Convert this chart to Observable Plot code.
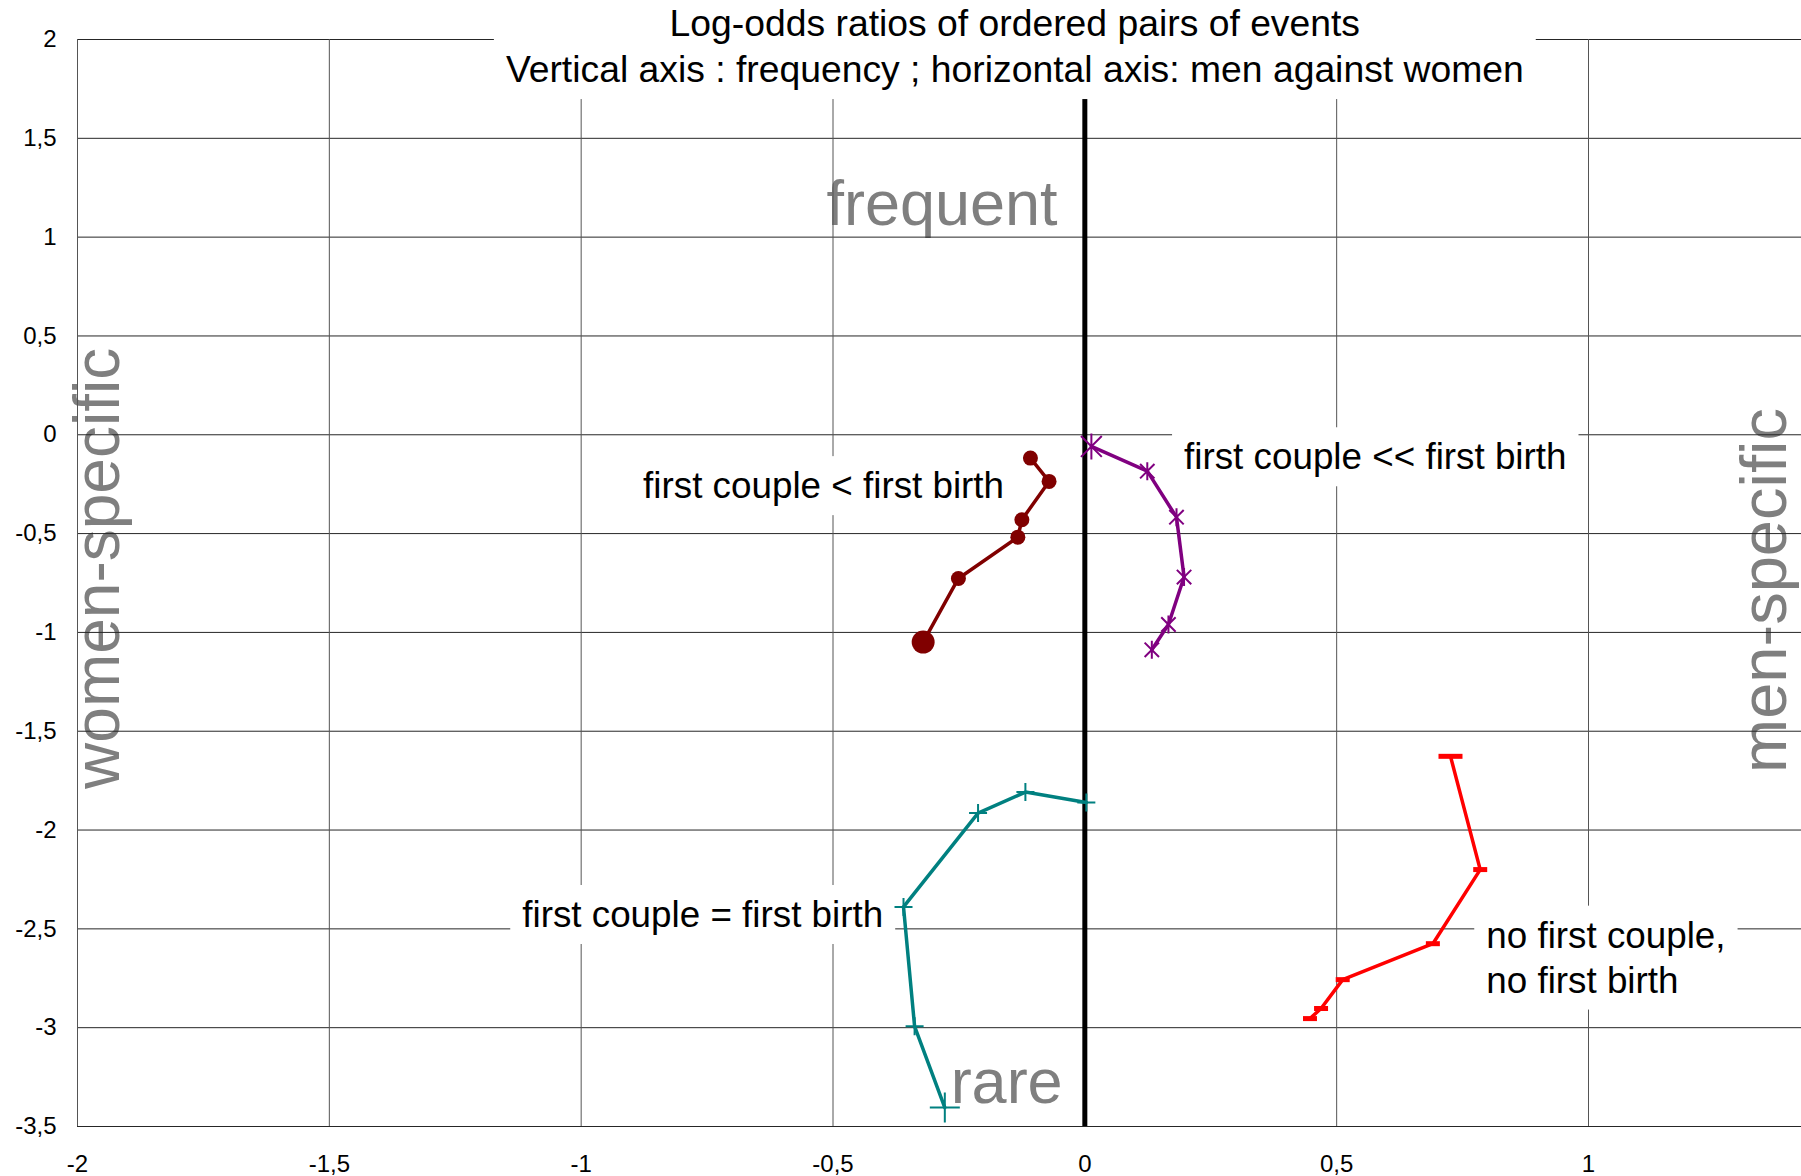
<!DOCTYPE html>
<html><head><meta charset="utf-8">
<script src="https://cdn.jsdelivr.net/npm/d3@7"></script>
<script src="https://cdn.jsdelivr.net/npm/@observablehq/plot@0.6"></script>
<style>html,body{margin:0;padding:0;background:#fff;} svg{display:block}</style>
</head><body>
<div id="chart"></div>
<script>
// ---- tick values ----
const xTicks = [-2, -1.5, -1, -0.5, 0, 0.5, 1];
const yTicks = [2, 1.5, 1, 0.5, 0, -0.5, -1, -1.5, -2, -2.5, -3, -3.5];

// ---- texts ----
const titleText = "Log-odds ratios of ordered pairs of events\nVertical axis : frequency ; horizontal axis: men against women";
const seriesNames = [
  "first couple < first birth",
  "first couple << first birth",
  "first couple = first birth",
  "no first couple,\nno first birth"
];

// ---- series values (x: men against women, y: frequency) ----
const ltX  = [-0.321, -0.251, -0.133, -0.125, -0.071, -0.108];
const ltY  = [-1.049, -0.727, -0.518, -0.430, -0.236, -0.118];
const lltX = [0.013, 0.124, 0.182, 0.197, 0.166, 0.133];
const lltY = [-0.059, -0.184, -0.417, -0.720, -0.960, -1.088];
const eqX  = [-0.278, -0.338, -0.360, -0.212, -0.118, 0.003];
const eqY  = [-3.404, -2.993, -2.389, -1.914, -1.808, -1.861];
const noX  = [0.726, 0.785, 0.691, 0.512, 0.469, 0.447];
const noY  = [-1.627, -2.200, -2.575, -2.757, -2.903, -2.954];

const rowsOf = (xs, ys) => xs.map((x, k) => ({x, y: ys[k], k}));
const ltRows = rowsOf(ltX, ltY), lltRows = rowsOf(lltX, lltY), eqRows = rowsOf(eqX, eqY), noRows = rowsOf(noX, noY);

// ---- custom marker symbols (size = pi r^2) ----
const rad = s => Math.sqrt(s / Math.PI);
const starSym = {draw(c, s) { const r = rad(s), a = r * 0.8;
  c.moveTo(0, -r); c.lineTo(0, r); c.moveTo(-a, -a); c.lineTo(a, a); c.moveTo(-a, a); c.lineTo(a, -a); }};
const plusSym = {draw(c, s) { const r = rad(s);
  c.moveTo(0, -r); c.lineTo(0, r); c.moveTo(-r, 0); c.lineTo(r, 0); }};
const dashSym = {draw(c, s) { const r = rad(s);
  c.moveTo(-r, 0); c.lineTo(r, 0); }};

const fmt = d => String(d).replace(".", ",");
const xMax = -2 + (1801 - 77) / ((1588 - 77) / 3);

function series(rows, color, opts, rSmall, rBig) {
  return [
    Plot.line(rows, {x: "x", y: "y", stroke: color, strokeWidth: 3.5, strokeLinejoin: "round"}),
    Plot.dot(rows, {x: "x", y: "y", filter: d => d.k > 0, r: rSmall, ...opts}),
    Plot.dot(rows, {x: "x", y: "y", filter: d => d.k === 0, r: rBig, ...opts})
  ];
}

const chart = Plot.plot({
  width: 1801,
  height: 1176,
  marginLeft: 77,
  marginRight: 0,
  marginTop: 39,
  marginBottom: 50,
  style: {fontFamily: "'Liberation Sans', Arial, sans-serif", background: "white", color: "black"},
  x: {domain: [-2, xMax], label: null},
  y: {domain: [-3.5, 2], label: null},
  marks: [
    // big grey annotations (under grid)
    Plot.text(["frequent"], {x: -0.054, y: 1.059, text: d => d, fontSize: 63, fill: "#7f7f7f", textAnchor: "end", lineAnchor: "bottom"}),
    Plot.text(["rare"], {x: -0.044, y: -3.382, text: d => d, fontSize: 63, fill: "#7f7f7f", textAnchor: "end", lineAnchor: "bottom"}),
    Plot.text(["women-specific"], {x: -1.918, y: -0.676, text: d => d, fontSize: 64, fill: "#7f7f7f", rotate: -90, textAnchor: "middle", lineAnchor: "bottom"}),
    Plot.text(["men-specific"], {x: 1.393, y: -0.788, text: d => d, fontSize: 65, fill: "#7f7f7f", rotate: -90, textAnchor: "middle", lineAnchor: "bottom"}),
    // grid
    Plot.ruleY(yTicks, {stroke: "#262626", strokeWidth: 1}),
    Plot.ruleX(xTicks.filter(d => d !== 0), {stroke: "#555", strokeWidth: 1}),
    Plot.ruleX([0], {stroke: "black", strokeWidth: 5}),
    // axes
    Plot.axisX(xTicks, {tickSize: 0, tickPadding: 28, fontSize: 24, tickFormat: fmt, label: null}),
    Plot.axisY(yTicks, {tickSize: 0, tickPadding: 21, fontSize: 24, tickFormat: fmt, label: null}),
    // boxed labels
    Plot.text([titleText], {x: -0.139, y: 1.975, text: d => d, fontSize: 37.3, fill: "black", textAnchor: "middle", lineAnchor: "middle", lineHeight: 1.23}),
    Plot.text([seriesNames[0]], {x: -0.877, y: -0.261, text: d => d, fontSize: 36.8, fill: "black", textAnchor: "start", lineAnchor: "middle"}),
    Plot.text([seriesNames[1]], {x: 0.197, y: -0.115, text: d => d, fontSize: 36.8, fill: "black", textAnchor: "start", lineAnchor: "middle"}),
    Plot.text([seriesNames[2]], {x: -1.117, y: -2.431, text: d => d, fontSize: 36.8, fill: "black", textAnchor: "start", lineAnchor: "middle"}),
    Plot.text([seriesNames[3]], {x: 0.797, y: -2.636, text: d => d, fontSize: 36.8, fill: "black", textAnchor: "start", lineAnchor: "middle", lineHeight: 1.22}),
    // series
    ...series(ltRows, "#800000", {symbol: "circle", fill: "#800000", stroke: "none"}, 7.5, 11.5),
    ...series(lltRows, "#800080", {symbol: starSym, fill: "none", stroke: "#800080", strokeWidth: 2}, 9, 13),
    ...series(eqRows, "#008080", {symbol: plusSym, fill: "none", stroke: "#008080", strokeWidth: 2}, 9, 15),
    ...series(noRows, "#ff0000", {symbol: dashSym, fill: "none", stroke: "#ff0000", strokeWidth: 5, strokeLinecap: "butt"}, 7, 12)
  ]
});

document.getElementById("chart").appendChild(chart);

// white boxes behind the boxed labels
const prefixes = ["Log-odds", "first couple", "no first"];
chart.querySelectorAll('g[aria-label="text"] text').forEach(t => {
  const s = t.textContent;
  if (!prefixes.some(p => s.startsWith(p))) return;
  const b = t.getBBox();
  const padX = 12, padY = 9;
  const r = document.createElementNS("http://www.w3.org/2000/svg", "rect");
  r.setAttribute("x", b.x - padX);
  r.setAttribute("y", b.y - padY);
  r.setAttribute("width", b.width + 2 * padX);
  r.setAttribute("height", b.height + 2 * padY);
  r.setAttribute("fill", "white");
  r.setAttribute("stroke", "none");
  if (t.getAttribute("transform")) r.setAttribute("transform", t.getAttribute("transform"));
  t.parentNode.insertBefore(r, t);
});
</script>
</body></html>
